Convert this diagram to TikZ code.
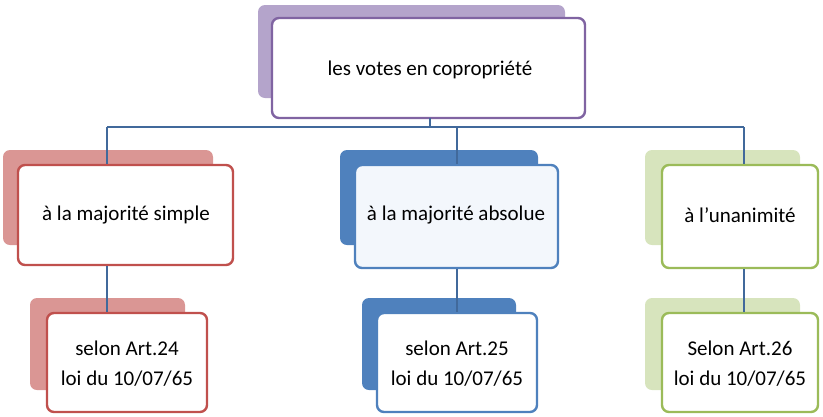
\documentclass[tikz,border=0pt]{standalone}
\usepackage{fontspec}
\setmainfont{Carlito}
\begin{document}
\begin{tikzpicture}[x=1pt,y=-1pt,
  back/.style={rounded corners=7pt,draw=none},
  front/.style={rounded corners=7pt,line width=2.4pt,fill=white},
  lbl/.style={font=\fontsize{21}{24}\selectfont,align=center},
  conn/.style={line width=2.2pt,draw={rgb,255:red,65;green,105;blue,155}}]
\useasboundingbox (0,0) rectangle (823,416);
\definecolor{pu}{RGB}{128,100,162}\definecolor{pul}{RGB}{180,164,203}
\definecolor{re}{RGB}{192,80,77}\definecolor{rel}{RGB}{218,150,148}
\definecolor{bl}{RGB}{79,129,189}\definecolor{bll}{RGB}{243,247,252}
\definecolor{gr}{RGB}{155,187,89}\definecolor{grl}{RGB}{215,228,189}
% top
\fill[back,pul] (258,5) rectangle (565,98);
\draw[front,draw=pu] (272,18) rectangle (585,118);
\node[lbl] (top) at (430,70) {les votes en copropriété};
\coordinate (tb) at (430,118);
% row 2
\fill[back,rel] (3,150) rectangle (213,245);
\draw[front,draw=re] (18,165) rectangle (233,265);
\node[lbl] (m1) at (126,215) {à la majorité simple};
\fill[back,bl] (340,150) rectangle (538,245);
\draw[front,draw=bl,fill=bll] (355,165) rectangle (558,268);
\node[lbl] (m2) at (456,215) {à la majorité absolue};
\fill[back,grl] (645,150) rectangle (800,245);
\draw[front,draw=gr] (662,165) rectangle (818,268);
\node[lbl] (m3) at (740,215) {à l’unanimité};
% row 3
\fill[back,rel] (30,298) rectangle (185,390);
\draw[front,draw=re] (47,313) rectangle (207,412);
\node[lbl] (b1) at (127,364) {selon Art.24\\[6pt]loi du 10/07/65};
\fill[back,bl] (362,298) rectangle (516,390);
\draw[front,draw=bl] (377,313) rectangle (537,412);
\node[lbl] (b2) at (457,364) {selon Art.25\\[6pt]loi du 10/07/65};
\fill[back,grl] (645,298) rectangle (800,390);
\draw[front,draw=gr] (662,313) rectangle (818,412);
\node[lbl] (b3) at (740,364) {Selon Art.26\\[6pt]loi du 10/07/65};
% connectors
\coordinate (h1) at (107,127);\coordinate (h2) at (457,127);\coordinate (h3) at (744,127);
\coordinate (t1) at (107,164);\coordinate (t2) at (457,164);\coordinate (t3) at (744,164);
\coordinate (u1) at (107,266);\coordinate (u2) at (457,269);\coordinate (u3) at (744,269);
\coordinate (l1) at (107,312);\coordinate (l2) at (457,312);\coordinate (l3) at (744,312);
\coordinate (hm) at (430,127);
\draw[conn] (tb) -- (hm); \draw[conn] (h1) -- (h3);
\foreach \i in {1,2,3}{\draw[conn] (h\i) -- (t\i); \draw[conn] (u\i) -- (l\i);}
\end{tikzpicture}
\end{document}
